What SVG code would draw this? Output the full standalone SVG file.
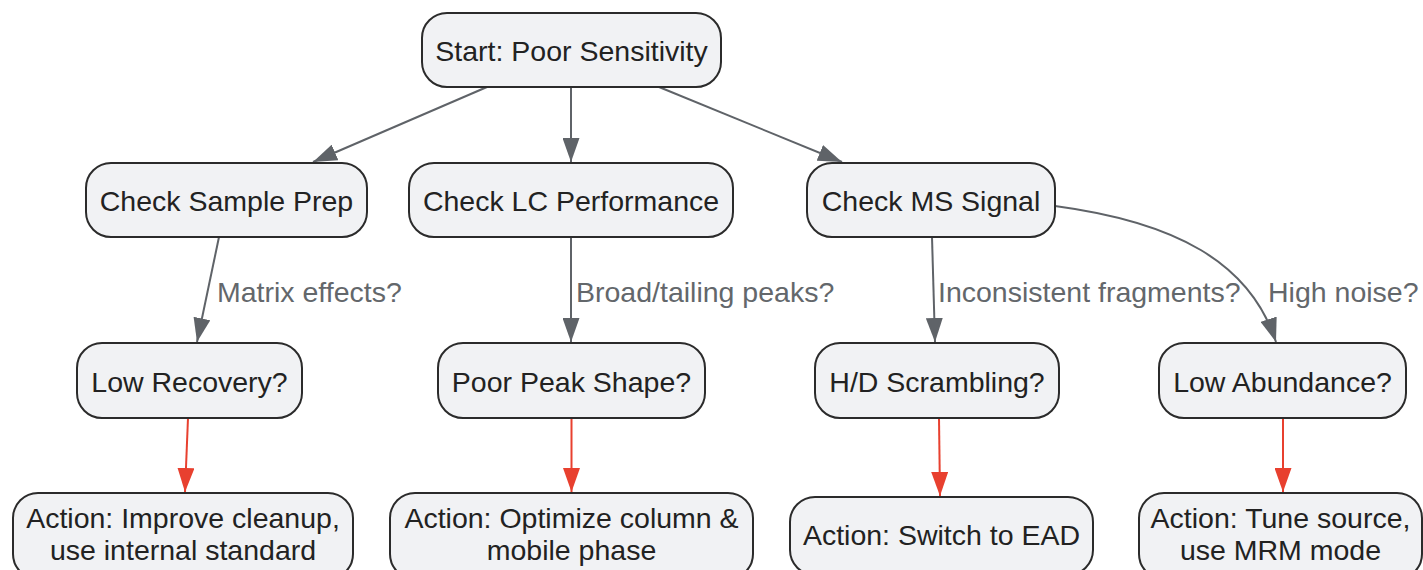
<svg xmlns="http://www.w3.org/2000/svg" width="1423" height="570" viewBox="0 0 1423 570">
<style>
.node rect{fill:#f1f2f4;stroke:#2b2b2b;stroke-width:2}
.node text{font-family:"Liberation Sans",Arial,sans-serif;font-size:28.5px;fill:#222;text-anchor:middle}
.lbl{font-family:"Liberation Sans",Arial,sans-serif;font-size:28.5px;fill:#63676b}
.e{fill:none;stroke:#5f6368;stroke-width:2}
.r{fill:none;stroke:#e8402f;stroke-width:2}
</style>
<defs>
<marker id="ag" markerUnits="userSpaceOnUse" markerWidth="24" markerHeight="17" refX="24" refY="8.5" orient="auto" viewBox="0 0 24 17"><path d="M0,0 L24,8.5 L0,17 z" fill="#5f6368"/></marker>
<marker id="ar" markerUnits="userSpaceOnUse" markerWidth="24" markerHeight="17" refX="24" refY="8.5" orient="auto" viewBox="0 0 24 17"><path d="M0,0 L24,8.5 L0,17 z" fill="#e8402f"/></marker>
</defs>
<rect width="1423" height="570" fill="#ffffff"/>
<g id="connectors">
<path class="e" d="M487,87 L313,162" marker-end="url(#ag)"/>
<path class="e" d="M571,87 L571,162" marker-end="url(#ag)"/>
<path class="e" d="M659,87 L842,162" marker-end="url(#ag)"/>
<path class="e" d="M219,237 L197,342" marker-end="url(#ag)"/>
<path class="e" d="M571,237 L571,342" marker-end="url(#ag)"/>
<path class="e" d="M932,237 L935,342" marker-end="url(#ag)"/>
<path class="e" d="M1055,206 C1175,222 1250,262 1276,342" marker-end="url(#ag)"/>
<path class="r" d="M188,418 L185,492" marker-end="url(#ar)"/>
<path class="r" d="M571.5,418 L571.5,492" marker-end="url(#ar)"/>
<path class="r" d="M939,418 L940,496" marker-end="url(#ar)"/>
<path class="r" d="M1283,418 L1283,492" marker-end="url(#ar)"/>
<text class="lbl" x="217" y="302">Matrix effects?</text>
<text class="lbl" x="576" y="302">Broad/tailing peaks?</text>
<text class="lbl" x="938" y="302">Inconsistent fragments?</text>
<text class="lbl" x="1268" y="302">High noise?</text>
</g>
<g id="start" class="node"><rect x="422" y="13" width="299" height="74" rx="25"/><text x="571.5" y="60.5">Start: Poor Sensitivity</text></g>
<g id="sample" class="node"><rect x="86" y="163" width="281" height="74" rx="25"/><text x="226.5" y="210.5">Check Sample Prep</text></g>
<g id="lc" class="node"><rect x="409" y="163" width="324" height="74" rx="25"/><text x="571" y="210.5">Check LC Performance</text></g>
<g id="ms" class="node"><rect x="807" y="163" width="248" height="74" rx="25"/><text x="931" y="210.5">Check MS Signal</text></g>
<g id="lowrec" class="node"><rect x="77" y="343" width="225" height="75" rx="25"/><text x="189.5" y="391.5">Low Recovery?</text></g>
<g id="peak" class="node"><rect x="438" y="343" width="267" height="75" rx="25"/><text x="571.5" y="391.5">Poor Peak Shape?</text></g>
<g id="hd" class="node"><rect x="815" y="343" width="244" height="75" rx="25"/><text x="937" y="391.5">H/D Scrambling?</text></g>
<g id="lowab" class="node"><rect x="1159" y="343" width="247" height="75" rx="25"/><text x="1282.5" y="391.5">Low Abundance?</text></g>
<g id="act1" class="node"><rect x="13" y="493" width="340" height="86" rx="25"/><text x="183" y="528">Action: Improve cleanup,</text><text x="183" y="560">use internal standard</text></g>
<g id="act2" class="node"><rect x="390" y="493" width="363" height="86" rx="25"/><text x="571.5" y="528">Action: Optimize column &amp;</text><text x="571.5" y="560">mobile phase</text></g>
<g id="act3" class="node"><rect x="790" y="497" width="303" height="78" rx="25"/><text x="941.5" y="545">Action: Switch to EAD</text></g>
<g id="act4" class="node"><rect x="1139" y="493" width="283" height="86" rx="25"/><text x="1280.5" y="528">Action: Tune source,</text><text x="1280.5" y="560">use MRM mode</text></g>
</svg>
